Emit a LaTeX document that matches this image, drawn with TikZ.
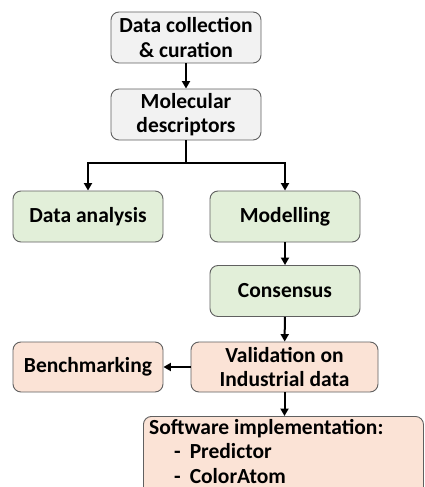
\documentclass[tikz,border=0pt]{standalone}
\usepackage{fontspec}
\setmainfont{Carlito}
\usetikzlibrary{arrows.meta}
\definecolor{boxgray}{HTML}{F2F2F2}
\definecolor{boxgreen}{HTML}{E2EFD9}
\definecolor{boxpeach}{HTML}{FBE3D6}
\definecolor{edge}{HTML}{606060}
\begin{document}
\begin{tikzpicture}[x=1pt,y=-1pt,
  txt/.style={font=\fontsize{21.5}{24.5}\selectfont\bfseries},
  box/.style={draw=edge, line width=0.9pt, rounded corners=8pt, align=center,
    txt, inner sep=2pt},
  gbox/.style={box, fill=boxgray, minimum width=150pt, minimum height=51pt},
  grbox/.style={box, fill=boxgreen, minimum width=150pt, minimum height=51pt},
  pbox/.style={box, fill=boxpeach, minimum height=50pt},
  conn/.style={line width=2pt, -{Triangle[length=7.5pt,width=8pt]}},
  plain/.style={line width=2pt}]
\useasboundingbox (0,0) rectangle (424,487);
\fill[white] (0,0) rectangle (424,487);
\node[gbox] (dc) at (186,37.5) {Data collection\\\& curation};
\node[gbox] (md) at (186,114.5) {Molecular\\descriptors};
\node[grbox] (da) at (88,216.5) {Data analysis};
\node[grbox] (mo) at (285,216.5) {Modelling};
\node[grbox] (co) at (285,291) {Consensus};
\node[pbox, minimum width=187pt] (va) at (284.5,367) {Validation on\\Industrial data};
\node[pbox, minimum width=150pt] (be) at (88,367) {Benchmarking};
\node[box, fill=boxpeach, anchor=north west, minimum width=280pt,
  minimum height=95pt] (sw) at (143,416) {};
\node[txt, anchor=north west, inner sep=0pt, align=left, text depth=0pt] (swt) at (149,419)
  {Software implementation:\\
   \hspace*{25pt}-\hspace{9pt}Predictor\\
   \hspace*{25pt}-\hspace{9pt}ColorAtom};
\coordinate (split) at (186,163);
\draw[conn] (dc) -- (md);
\draw[plain] (md.south) -- (split);
\draw[conn] (split) -| (da.north);
\draw[conn] (split) -| (mo.north);
\draw[conn] (mo) -- (co);
\draw[conn] (co) -- (va);
\draw[conn] (va) -- (be);
\draw[conn] (va.south) -- (va.south |- sw.north);
\end{tikzpicture}
\end{document}
